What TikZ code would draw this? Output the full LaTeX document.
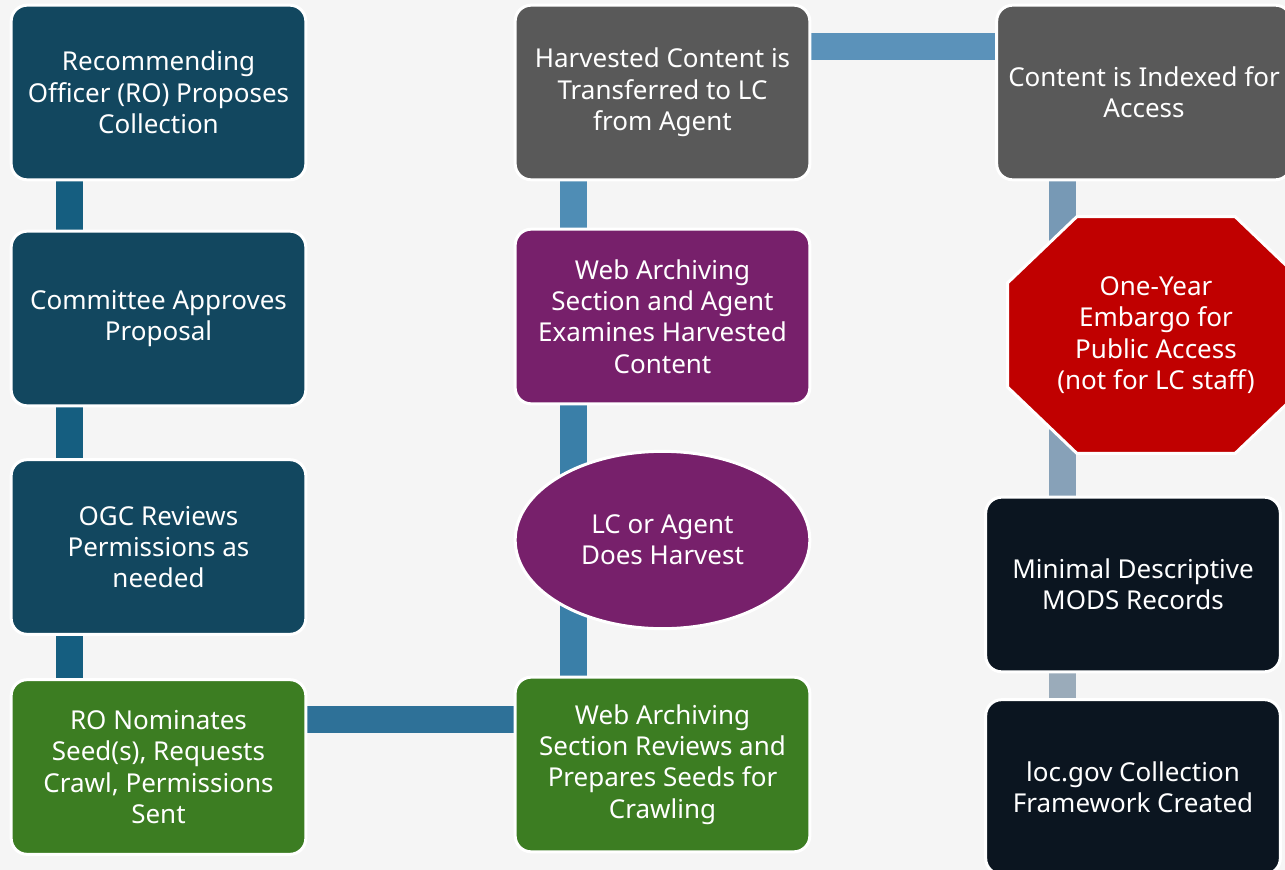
\documentclass[tikz,border=0pt]{standalone}
\usepackage{fontspec}
\setmainfont{Noto Sans}
\usepackage{tikz}
\usetikzlibrary{calc,positioning,shapes.geometric}
\definecolor{bgcol}{HTML}{F5F5F5}
\definecolor{tealbox}{HTML}{12475F}
\definecolor{greenbox}{HTML}{3C7D22}
\definecolor{purplebox}{HTML}{77206B}
\definecolor{greybox}{HTML}{595959}
\definecolor{redbox}{HTML}{C00000}
\definecolor{navybox}{HTML}{0B1520}
\definecolor{linka}{HTML}{155E80}
\definecolor{linkb}{HTML}{2E7198}
\definecolor{linkc}{HTML}{3A7FA8}
\definecolor{linkd}{HTML}{4F8DB5}
\definecolor{linke}{HTML}{5B92BA}
\definecolor{linkf}{HTML}{7799B5}
\definecolor{linkg}{HTML}{87A1B8}
\definecolor{linkh}{HTML}{9AABBA}
\pgfdeclarelayer{back}
\pgfdeclarelayer{links}
\pgfsetlayers{back,links,main}

\begin{document}
\begin{tikzpicture}[x=0.75pt, y=-0.75pt,
  stage/.style={rectangle, rounded corners=12pt, draw=white, line width=2.25pt,
    minimum width=221pt, minimum height=131pt, inner sep=2pt, align=center,
    text=white, font=\fontsize{19.5}{23.5}\selectfont, fill=#1},
  stage/.default=tealbox,
  link/.style={line width=20.25pt, draw=#1}]
    \useasboundingbox (0,0) rectangle (1285,870);
    \begin{pgfonlayer}{back}
      \fill[bgcol] (0,0) rectangle (1285,870);
    \end{pgfonlayer}
    % columns of the bars
    \coordinate (lbar) at (69.5,0);
    \coordinate (mbar) at (573.5,0);
    \coordinate (rbar) at (1062.5,0);
    \coordinate (topbar) at (0,47);
    \coordinate (lowbar) at (0,719.5);
    % left column
    \node[stage] (b1) at (158.5,92.5) {Recommending\\Officer (RO) Proposes\\Collection};
    \node[stage] (b2) at (158.5,318.5) {Committee Approves\\Proposal};
    \node[stage] (b3) at (158.5,547) {OGC Reviews\\Permissions as\\needed};
    \node[stage=greenbox] (b4) at (158.5,767) {RO Nominates\\Seed(s), Requests\\Crawl, Permissions\\Sent};
    % middle column
    \node[stage=greenbox] (b5) at (662.5,764.5) {Web Archiving\\Section Reviews and\\Prepares Seeds for\\Crawling};
    \node[ellipse, draw=white, line width=2.25pt, fill=purplebox, minimum width=221pt,
      minimum height=133pt, align=center, text=white,
      font=\fontsize{19.5}{23.5}\selectfont] (e1) at (662.5,540) {LC or Agent\\Does Harvest};
    \node[stage=purplebox] (b6) at (662.5,316.5) {Web Archiving\\Section and Agent\\Examines Harvested\\Content};
    \node[stage=greybox] (b7) at (662.5,92.5) {Harvested Content is\\Transferred to LC\\from Agent};
    % right column
    \node[stage=greybox] (b8) at (1144,92.5) {Content is Indexed for\\Access};
    \node[minimum width=222pt, minimum height=177pt, inner sep=0pt, align=center, text=white,
      font=\fontsize{19.5}{23.5}\selectfont] (oct) at (1156,335) {One-Year\\Embargo for\\Public Access\\(not for LC staff)};
    \node[stage=navybox] (b9) at (1133,584.5) {Minimal Descriptive\\MODS Records};
    \node[stage=navybox] (b10) at (1133,787) {loc.gov Collection\\Framework Created};

    \begin{pgfonlayer}{links}
      \draw[link=linka]
      (b1.south -| lbar) -- (b2.north -| lbar)
      (b2.south -| lbar) -- (b3.north -| lbar)
      (b3.south -| lbar) -- (b4.north -| lbar);
      \draw[link=linkb] (b4.east |- lowbar) -- (b5.west |- lowbar);
      \draw[link=linkc] (b5.north -| mbar) -- (e1.center -| mbar) -- (b6.south -| mbar);
      \draw[link=linkd] (b6.north -| mbar) -- (b7.south -| mbar);
      \draw[link=linke] (b7.east |- topbar) -- (b8.west |- topbar);
      \draw[link=linkf] (b8.south -| rbar) -- (oct.center -| rbar);
      \draw[link=linkg] (oct.center -| rbar) -- (b9.north -| rbar);
      \draw[link=linkh] (b9.south -| rbar) -- (b10.north -| rbar);
      % the stop sign
      \filldraw[fill=redbox, draw=white, line width=2.25pt]
        ($(oct.north west)+(69,0)$) -- ($(oct.north east)+(-69,0)$)
        -- ($(oct.north east)+(0,66)$) -- ($(oct.south east)+(0,-66)$)
        -- ($(oct.south east)+(-69,0)$) -- ($(oct.south west)+(69,0)$)
        -- ($(oct.south west)+(0,-66)$) -- ($(oct.north west)+(0,66)$) -- cycle;
    \end{pgfonlayer}
\end{tikzpicture}
\end{document}
